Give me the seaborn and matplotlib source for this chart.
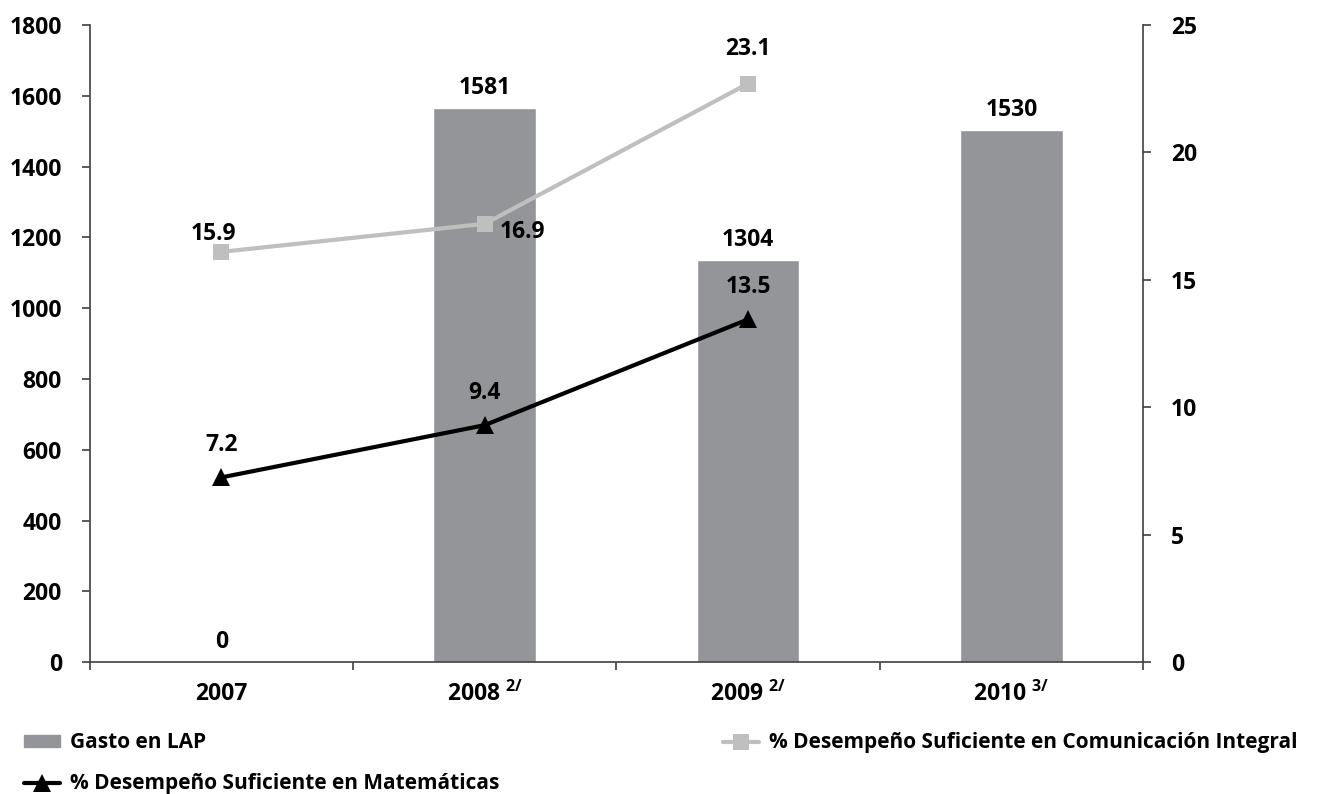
import matplotlib
matplotlib.use("Agg")
import matplotlib.pyplot as plt
import seaborn as sns
import pandas as pd
from matplotlib.patches import Patch
from matplotlib.lines import Line2D

# data
years = ["2007", "2008", "2009", "2010"]
year_notes = ["", "2/", "2/", "3/"]
gasto_bar = [0, 1565, 1135, 1503]          # bar heights as drawn
gasto_labels = ["0", "1581", "1304", "1530"]  # values printed on the bars
com_vals = [16.1, 17.2, 22.7]
com_labels = ["15.9", "16.9", "23.1"]
mat_vals = [7.25, 9.3, 13.45]
mat_labels = ["7.2", "9.4", "13.5"]

sns.set_theme(style="white")
plt.rcParams["font.family"] = ["Open Sans", "DejaVu Sans"]
plt.rcParams["font.weight"] = "bold"
plt.rcParams["text.color"] = "black"
plt.rcParams["xtick.labelcolor"] = "black"
plt.rcParams["ytick.labelcolor"] = "black"
plt.rcParams["mathtext.fontset"] = "custom"
plt.rcParams["mathtext.rm"] = "Open Sans:bold"
plt.rcParams["mathtext.bf"] = "Open Sans:bold"

BAR = "#939598"
COM = "#bfbfbf"
SPINE = "#404040"
FS = 16.5

fig, ax = plt.subplots(figsize=(13.19, 7.94), dpi=100)
fig.subplots_adjust(left=0.068, right=0.8666, top=0.9685, bottom=0.166)

df = pd.DataFrame({"year": years, "gasto": gasto_bar})
sns.barplot(data=df, x="year", y="gasto", color=BAR, saturation=1,
            width=0.39, ax=ax)
ax.set_xlim(-0.5, 3.5)
ax.set_ylim(0, 1800)
ax.set_yticks(range(0, 1801, 200))
ax.set_xlabel("")
ax.set_ylabel("")

for i, lab in enumerate(gasto_labels):
    ax.annotate(lab, (i, gasto_bar[i]), xytext=(0, 6), textcoords="offset points",
                ha="center", va="bottom", fontsize=FS, fontweight="bold")

ax2 = ax.twinx()
pos = list(range(len(com_vals)))
sns.lineplot(x=pos, y=com_vals, color=COM, lw=3, marker="s", markersize=11,
             markeredgewidth=0, ax=ax2)
sns.lineplot(x=pos, y=mat_vals, color="black", lw=3, marker="^", markersize=13,
             markeredgewidth=0, ax=ax2)
ax2.set_ylim(0, 25)
ax2.set_yticks(range(0, 26, 5))

com_off = [(-6, 13, "center"), (11, -6, "left"), (0, 25, "center")]
for i, lab in enumerate(com_labels):
    dx, dy, ha = com_off[i]
    ax2.annotate(lab, (i, com_vals[i]), xytext=(dx, dy), textcoords="offset points",
                 ha=ha, va="center", fontsize=FS, fontweight="bold")
for i, lab in enumerate(mat_labels):
    ax2.annotate(lab, (i, mat_vals[i]), xytext=(0, 23), textcoords="offset points",
                 ha="center", va="center", fontsize=FS, fontweight="bold")

# axes styling
for a in (ax, ax2):
    a.spines["top"].set_visible(False)
    for s in ("left", "right", "bottom"):
        a.spines[s].set_color(SPINE)
        a.spines[s].set_linewidth(1.2)
ax.spines["right"].set_visible(False)
ax2.spines["left"].set_visible(False)
ax2.spines["bottom"].set_visible(False)

ax.set_xticks(range(4))
ax.set_xticklabels([y + (r" $^{%s}$" % n if n else "") for y, n in zip(years, year_notes)],
                   fontsize=FS, fontweight="bold")
ax.set_xticks([-0.5, 0.5, 1.5, 2.5, 3.5], minor=True)
ax.tick_params(axis="x", which="major", length=0, pad=14, labelcolor="black")
ax.tick_params(axis="x", which="minor", direction="out", length=6, width=1.2,
               color=SPINE, bottom=True)
ax.tick_params(axis="y", direction="out", length=6, width=1.2, color=SPINE,
               left=True, pad=14, labelsize=FS, labelcolor="black")
ax2.tick_params(axis="y", direction="out", length=6, width=1.2, color=SPINE,
                right=True, pad=14, labelsize=FS, labelcolor="black")
for t in ax.get_yticklabels() + ax2.get_yticklabels():
    t.set_fontweight("bold")

# legend
h_gasto = Patch(color=BAR)
h_mat = Line2D([], [], color="black", lw=3, marker="^", markersize=13, markeredgewidth=0)
h_com = Line2D([], [], color=COM, lw=3, marker="s", markersize=11, markeredgewidth=0)
leg_font = {"size": 15, "weight": "bold"}
fig.legend([h_gasto, h_mat], ["Gasto en LAP", "% Desempeño Suficiente en Matemáticas"],
           loc="upper left", bbox_to_anchor=(0.012, 0.088), frameon=False,
           prop=leg_font, handlelength=1.7, handleheight=0.45, handletextpad=0.5,
           labelspacing=0.95, borderaxespad=0, labelcolor="black")
fig.legend([h_com], ["% Desempeño Suficiente en Comunicación Integral"],
           loc="upper left", bbox_to_anchor=(0.542, 0.088), frameon=False,
           prop=leg_font, handlelength=1.7, handleheight=0.45, handletextpad=0.5,
           borderaxespad=0, labelcolor="black")

fig.savefig("out.png", dpi=100)
